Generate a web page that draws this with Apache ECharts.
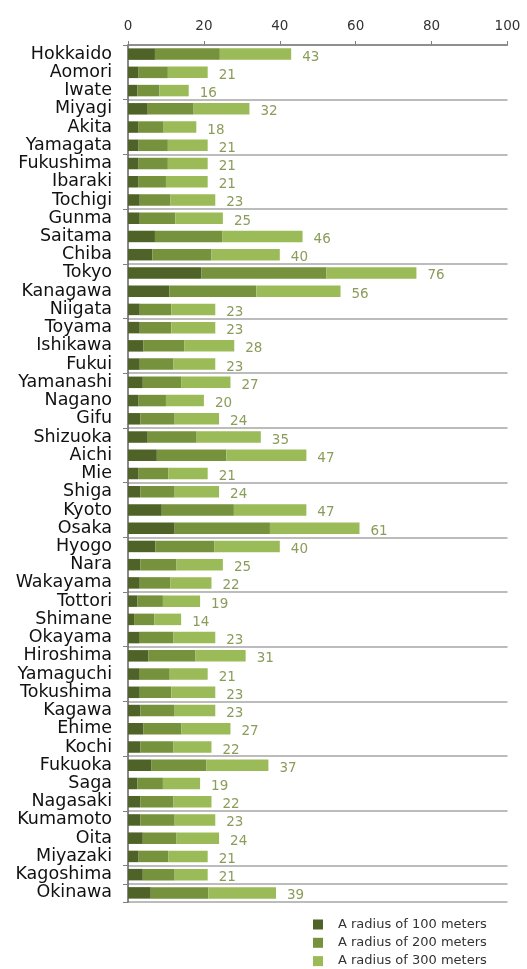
<!DOCTYPE html>
<html>
<head>
<meta charset="utf-8">
<script src="https://cdn.jsdelivr.net/npm/echarts@6/dist/echarts.min.js"></script>
<style>
html,body{margin:0;padding:0;background:#fff;}
#c{width:527px;height:969px;}
</style>
</head>
<body>
<div id="c"></div>
<script>
const categories = ["Hokkaido","Aomori","Iwate","Miyagi","Akita","Yamagata","Fukushima","Ibaraki","Tochigi","Gunma","Saitama","Chiba","Tokyo","Kanagawa","Niigata","Toyama","Ishikawa","Fukui","Yamanashi","Nagano","Gifu","Shizuoka","Aichi","Mie","Shiga","Kyoto","Osaka","Hyogo","Nara","Wakayama","Tottori","Shimane","Okayama","Hiroshima","Yamaguchi","Tokushima","Kagawa","Ehime","Kochi","Fukuoka","Saga","Nagasaki","Kumamoto","Oita","Miyazaki","Kagoshima","Okinawa"];
const radius100 = [7.1,2.8,2.5,5.2,2.8,2.8,2.8,2.8,3.1,3.1,7.1,6.4,19.3,10.9,3.1,3.1,4.1,3.1,3.9,2.8,3.3,5.2,7.6,2.8,3.3,8.9,12.3,7.2,3.3,3.1,2.5,1.6,3.1,5.4,3.1,3.1,3.3,4.1,3.3,6.1,2.5,3.3,3.3,3.9,2.8,3.9,6.0];
const radius200 = [17.1,7.7,5.8,12.1,6.6,7.7,7.7,7.2,8.1,9.4,17.7,15.6,33.0,22.9,8.3,8.3,10.7,8.9,10.1,7.2,9.0,12.9,18.3,7.8,9.0,19.0,25.1,15.5,9.5,8.1,6.7,5.3,8.9,12.4,7.9,8.3,9.0,10.0,8.7,14.5,6.7,8.7,9.0,8.9,7.8,8.4,15.2];
const radius300 = [18.8,10.5,7.7,14.7,8.6,10.5,10.5,11.0,11.8,12.5,21.2,18.0,23.7,22.2,11.6,11.6,13.2,11.0,13.0,10.0,11.7,16.9,21.1,10.4,11.7,19.1,23.6,17.3,12.2,10.8,9.8,7.1,11.0,13.2,10.0,11.6,10.7,12.9,10.0,16.4,9.8,10.0,10.7,11.2,10.4,8.7,17.8];
const totals = [43,21,16,32,18,21,21,21,23,25,46,40,76,56,23,23,28,23,27,20,24,35,47,21,24,47,61,40,25,22,19,14,23,31,21,23,23,27,22,37,19,22,23,24,21,21,39];
const xTicks = [0,20,40,60,80,100];
const seriesNames = ["A radius of 100 meters","A radius of 200 meters","A radius of 300 meters"];

const chart = echarts.init(document.getElementById('c'), null, {renderer:'canvas'});
const font = 'DejaVu Sans, Verdana, sans-serif';
const colors = ['#4f6228','#76923c','#9bbb59'];
const barW = 11.5;
const legendTops = [918, 936.3, 954.6];
chart.setOption({
  animation:false,
  textStyle:{fontFamily:font},
  grid:{left:128, right:19.5, top:45, height:857, containLabel:false},
  xAxis:{
    type:'value', position:'top', min:xTicks[0], max:xTicks[xTicks.length-1], interval:20,
    axisLine:{show:true, lineStyle:{color:'#808080', width:1.5}},
    axisTick:{show:true, inside:false, length:4, lineStyle:{color:'#808080'}},
    axisLabel:{color:'#333', fontSize:13.5, fontFamily:font, margin:12},
    splitLine:{show:false}
  },
  yAxis:{
    type:'category', inverse:true, data:categories,
    axisLine:{show:true, lineStyle:{color:'#606060', width:1.5}},
    axisTick:{show:true, interval:2, length:5, lineStyle:{color:'#808080'}},
    splitLine:{show:true, interval:2, lineStyle:{color:'#a6a6a6', width:1.5}},
    axisLabel:{color:'#111', fontSize:17.5, fontFamily:font, margin:16, interval:0}
  },
  legend: seriesNames.map((n,i)=>({
    orient:'horizontal', left:313, top:legendTops[i], padding:0, itemWidth:10, itemHeight:10,
    icon:'rect',
    textStyle:{color:'#333', fontSize:13, fontFamily:font, padding:[0,0,0,10]},
    data:[n]
  })),
  series:[
    {name:seriesNames[0], type:'bar', stack:'t', data:radius100, barWidth:barW, itemStyle:{color:colors[0]}},
    {name:seriesNames[1], type:'bar', stack:'t', data:radius200, barWidth:barW, itemStyle:{color:colors[1]}},
    {name:seriesNames[2], type:'bar', stack:'t', data:radius300, barWidth:barW, itemStyle:{color:colors[2]},
      label:{show:true, position:'right', distance:11, offset:[0,3], color:'#8a9c5a', fontSize:13.5, fontFamily:font,
        formatter:p=>String(totals[p.dataIndex])}}
  ]
});
</script>
</body>
</html>
